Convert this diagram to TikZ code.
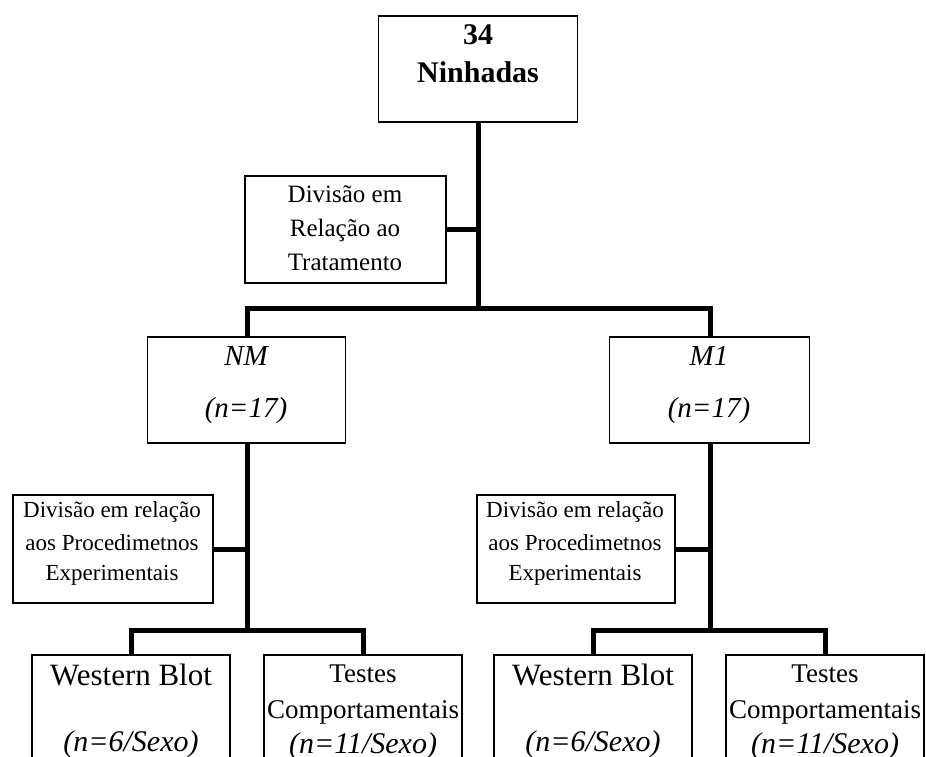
\documentclass[tikz,border=0pt]{standalone}
\usepackage{fontspec}
\setmainfont{Liberation Serif}
\begin{document}
\begin{tikzpicture}[x=1pt,y=-1pt,
  box/.style={draw, line width=1.3pt, inner sep=0pt, fill=white},
  conn/.style={line width=5pt, line join=miter},
  txt/.style={anchor=base, inner sep=0pt},
  ttop/.style={txt, font=\fontsize{30}{32}\selectfont\bfseries},
  ttrat/.style={txt, font=\fontsize{25}{28}\selectfont},
  tgrp/.style={txt, font=\fontsize{29}{30}\selectfont\itshape},
  tproc/.style={txt, font=\fontsize{23}{26}\selectfont},
  twb/.style={txt, font=\fontsize{31}{32}\selectfont},
  ttes/.style={txt, font=\fontsize{27}{28}\selectfont},
  tn/.style={txt, font=\fontsize{30}{30}\selectfont\itshape}]
\useasboundingbox (0,0) rectangle (926,757);
\clip (0,0) rectangle (926,757);
\fill[white] (0,0) rectangle (926,757);

% coordinates for bars
\coordinate (bar1) at (478,308);
\coordinate (bar2) at (247,630);
\coordinate (bar3) at (710,630);

% boxes
\node[box, minimum width=199pt, minimum height=106pt] (top) at (478,69) {};
\node[box, minimum width=201pt, minimum height=107pt] (trat) at (345.5,229.5) {};
\node[box, minimum width=198pt, minimum height=106pt] (nm) at (246.5,390) {};
\node[box, minimum width=200pt, minimum height=106pt] (m1) at (709.5,390) {};
\node[box, minimum width=200pt, minimum height=108pt] (procL) at (113,549) {};
\node[box, minimum width=198pt, minimum height=108pt] (procR) at (576,549) {};
\node[box, minimum width=198pt, minimum height=130pt] (wbL) at (131,720) {};
\node[box, minimum width=198pt, minimum height=130pt] (teL) at (363,720) {};
\node[box, minimum width=198pt, minimum height=130pt] (wbR) at (593,720) {};
\node[box, minimum width=198pt, minimum height=130pt] (teR) at (825,720) {};

% connectors
\draw[conn] (top.south) -- (bar1);
\draw[conn] (trat.east) -- (trat.east -| bar1);
\draw[conn] (nm.north -| bar2) |- (bar1) -| (m1.north -| bar3);
\draw[conn] (nm.south -| bar2) -- (bar2);
\draw[conn] (m1.south -| bar3) -- (bar3);
\draw[conn] (procL.east) -- (procL.east -| bar2);
\draw[conn] (procR.east) -- (procR.east -| bar3);
\draw[conn] (wbL.north) |- (bar2) -| (teL.north);
\draw[conn] (wbR.north) |- (bar3) -| (teR.north);

% texts
\node[ttop] (t1) at (478,45) {34};
\node[ttop] (t2) at (478,83) {Ninhadas};

\node[ttrat] (tr1) at (345,202) {Divisão em};
\node[ttrat] (tr2) at (345,236) {Relação ao};
\node[ttrat] (tr3) at (345,270) {Tratamento};

\node[tgrp] (nm1) at (246,365) {NM};
\node[tgrp] (nm2) at (246,417) {(n=17)};
\node[tgrp] (m11) at (709,365) {M1};
\node[tgrp] (m12) at (709,417) {(n=17)};

\node[tproc] (pl1) at (112,517) {Divisão em relação};
\node[tproc] (pl2) at (112,550) {aos Procedimetnos};
\node[tproc] (pl3) at (112,580) {Experimentais};
\node[tproc] (pr1) at (575,517) {Divisão em relação};
\node[tproc] (pr2) at (575,550) {aos Procedimetnos};
\node[tproc] (pr3) at (575,580) {Experimentais};

\node[twb] (wl1) at (131,685) {Western Blot};
\node[tn] (wl2) at (131,751) {(n=6/Sexo)};
\node[ttes] (tl1) at (363,682) {Testes};
\node[ttes] (tl2) at (363,718) {Comportamentais};
\node[tn] (tl3) at (363,753) {(n=11/Sexo)};

\node[twb] (wr1) at (593,685) {Western Blot};
\node[tn] (wr2) at (593,751) {(n=6/Sexo)};
\node[ttes] (tr4) at (825,682) {Testes};
\node[ttes] (tr5) at (825,718) {Comportamentais};
\node[tn] (tr6) at (825,753) {(n=11/Sexo)};
\end{tikzpicture}
\end{document}
